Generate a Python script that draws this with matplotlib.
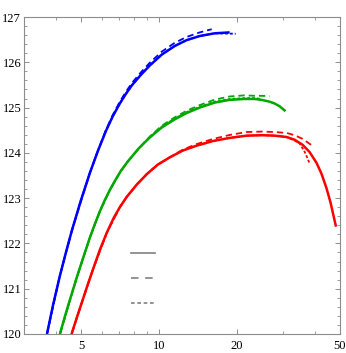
import matplotlib
matplotlib.use('Agg')
import matplotlib.pyplot as plt
from matplotlib.ticker import FixedLocator, NullFormatter, MultipleLocator

# curve data (x on log scale)
blue_solid_x = [3.681, 3.882, 4.131, 4.357, 4.597, 4.978, 5.395, 5.789, 6.217, 6.615, 7.041, 7.426,
                7.834, 8.485, 9.194, 10.23, 11.48, 12.77, 14.34, 16.39, 18.72]
blue_solid_y = [120.00, 120.63, 121.29, 121.80, 122.29, 122.95, 123.56, 124.04, 124.48, 124.81, 125.09, 125.30,
                125.49, 125.72, 125.93, 126.17, 126.36, 126.49, 126.58, 126.64, 126.66]
blue_dash_x = [3.681, 4.131, 4.597, 5.395, 5.789, 6.217, 6.615, 7.041, 7.426, 7.834, 8.485, 9.194,
               10.23, 11.48, 12.77, 14.34, 15.95]
blue_dash_y = [120.00, 121.29, 122.29, 123.56, 124.04, 124.50, 124.84, 125.13, 125.345, 125.54, 125.775, 125.99,
               126.235, 126.43, 126.56, 126.66, 126.73]
blue_dot_x = blue_solid_x[:-1] + [19.75]
blue_dot_y = blue_solid_y[:-1] + [126.63]

green_solid_x = [4.131, 4.319, 4.516, 4.806, 5.160, 5.394, 5.639, 5.895, 6.163, 6.443, 6.736, 7.104, 7.559,
                 8.337, 9.194, 10.23, 11.48, 12.77, 14.34, 16.39, 18.72, 21.39, 23.38, 24.88, 26.71, 27.93,
                 29.19, 30.79]
green_solid_y = [120.00, 120.39, 120.76, 121.26, 121.80, 122.13, 122.43, 122.71, 122.96, 123.18, 123.38, 123.60,
                 123.81, 124.10, 124.34, 124.56, 124.74, 124.88, 125.00, 125.11, 125.17, 125.19, 125.19, 125.17,
                 125.13, 125.09, 125.03, 124.92]
green_dash_x = [4.131, 4.806, 5.394, 5.895, 6.443, 7.104, 7.559, 8.337, 9.194, 10.23, 11.48, 12.77, 14.34,
                16.39, 18.72, 21.39, 23.38, 24.88, 26.71]
green_dash_y = [120.00, 121.26, 122.13, 122.71, 123.18, 123.60, 123.81, 124.10, 124.36, 124.60, 124.785, 124.93,
                125.055, 125.175, 125.245, 125.27, 125.26, 125.26, 125.25]
green_dot_x = [4.131, 4.806, 5.394, 5.895, 6.443, 7.104, 7.559, 8.337, 9.194, 10.23, 11.48, 12.77, 14.34,
               16.39, 18.72, 21.39, 23.38, 24.88]
green_dot_y = [120.00, 121.26, 122.13, 122.71, 123.18, 123.60, 123.81, 124.10, 124.35, 124.58, 124.76, 124.90,
               125.02, 125.13, 125.19, 125.21, 125.21, 125.19]

red_solid_x = [4.583, 4.805, 5.023, 5.298, 5.539, 5.895, 6.273, 6.675, 7.041, 7.493, 8.191, 8.951, 9.870,
               10.98, 12.32, 13.96, 16.09, 18.72, 21.77, 25.09, 27.93, 31.07, 33.37, 35.81, 38.12, 40.56,
               42.40, 44.33, 45.93, 48.25]
red_solid_y = [120.00, 120.37, 120.70, 121.10, 121.42, 121.86, 122.24, 122.57, 122.80, 123.03, 123.30, 123.53,
               123.74, 123.90, 124.05, 124.16, 124.26, 124.33, 124.38, 124.39, 124.38, 124.35, 124.29, 124.18,
               124.02, 123.78, 123.54, 123.22, 122.91, 122.37]
red_dash_x = [4.583, 5.023, 5.539, 6.273, 7.041, 7.493, 8.191, 8.951, 9.870, 10.98, 12.32, 13.96, 16.09,
              18.72, 21.77, 25.09, 27.93, 31.07, 33.37, 35.81, 39.25]
red_dash_y = [120.00, 120.70, 121.42, 122.24, 122.80, 123.03, 123.30, 123.53, 123.74, 123.90, 124.07, 124.195,
              124.305, 124.395, 124.46, 124.47, 124.46, 124.44, 124.39, 124.31, 124.15]
red_dot_x = [4.583, 5.023, 5.539, 6.273, 7.041, 7.493, 8.191, 8.951, 9.870, 10.98, 12.32, 13.96, 16.09,
             18.72, 21.77, 25.09, 27.93, 31.07, 33.37, 34.87, 36.46, 37.44, 38.12]
red_dot_y = [120.00, 120.70, 121.42, 122.24, 122.80, 123.03, 123.30, 123.53, 123.74, 123.90, 124.05, 124.16,
             124.26, 124.33, 124.38, 124.39, 124.38, 124.35, 124.27, 124.21, 124.03, 123.88, 123.77]

x_major = [5, 10, 20, 50]
x_minor = [3, 4, 6, 7, 8, 9, 30, 40]

plt.rcParams['font.family'] = ['Liberation Serif', 'DejaVu Serif']

fig = plt.figure(figsize=(3.46, 3.53), dpi=100)
ax = fig.add_axes([24/346, 19/353, 316/346, 317/353])

dash = (0, (3.5, 2.2))
dot = (0, (1.6, 1.1))

curves = [
    ('#0000ff', blue_solid_x, blue_solid_y, blue_dash_x, blue_dash_y, blue_dot_x, blue_dot_y),
    ('#00a800', green_solid_x, green_solid_y, green_dash_x, green_dash_y, green_dot_x, green_dot_y),
    ('#ff0000', red_solid_x, red_solid_y, red_dash_x, red_dash_y, red_dot_x, red_dot_y),
]
for col, sx, sy, dx, dy, ox, oy in curves:
    ax.plot(sx, sy, color=col, lw=1.8, solid_capstyle='butt', solid_joinstyle='round')
    ax.plot(dx, dy, color=col, lw=1.3, linestyle=dash)
    ax.plot(ox, oy, color=col, lw=1.3, linestyle=dot)

# unlabeled legend keys
ax.plot([0.338, 0.415], [0.255, 0.255], transform=ax.transAxes, color='#808080', lw=1.2)
ax.plot([0.338, 0.415], [0.176, 0.176], transform=ax.transAxes, color='#808080', lw=1.2, linestyle=(0, (4.5, 4)))
ax.plot([0.338, 0.415], [0.099, 0.099], transform=ax.transAxes, color='#808080', lw=1.2, linestyle=(0, (2.2, 1.6)))

ax.set_xscale('log')
ax.set_xlim(3, 50)
ax.set_ylim(120, 127)
ax.xaxis.set_major_locator(FixedLocator(x_major))
ax.xaxis.set_minor_locator(FixedLocator(x_minor))
ax.xaxis.set_minor_formatter(NullFormatter())
ax.set_xticklabels([str(v) for v in x_major])
ax.yaxis.set_major_locator(MultipleLocator(1))
ax.yaxis.set_minor_locator(MultipleLocator(0.2))

for s in ax.spines.values():
    s.set_color('#8c8c8c')
    s.set_linewidth(0.8)
ax.tick_params(which='both', direction='in', top=True, right=True, color='#8c8c8c', labelsize=9)
ax.tick_params(which='major', length=3.5, width=0.7)
ax.tick_params(which='minor', length=2, width=0.6)
ax.tick_params(axis='x', pad=4)
ax.tick_params(axis='y', pad=2)

plt.savefig('out.png', dpi=100)
